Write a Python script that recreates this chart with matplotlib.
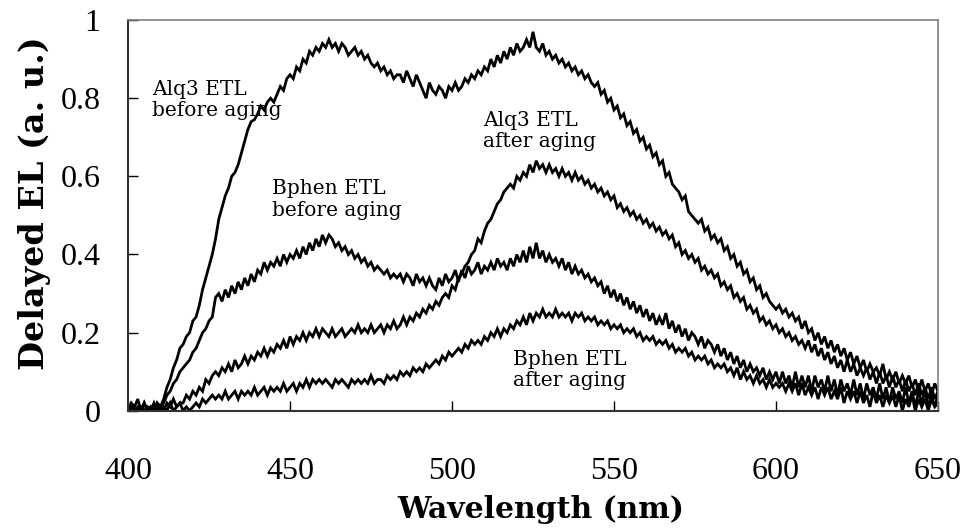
import numpy as np
import matplotlib
matplotlib.use("Agg")
import matplotlib.pyplot as plt

plt.rcParams['font.family'] = ['Liberation Serif', 'DejaVu Serif']

# wavelength grid of the spectrometer (1 nm steps)
wavelength = np.arange(400, 651)

# delayed EL spectra, normalised
alq3_before = [
    0.00, 0.02, 0.01, 0.03, 0.00, 0.02, 0.00, 0.01, 0.00, 0.02,
    0.01, 0.03, 0.06, 0.08, 0.11, 0.13, 0.16, 0.17, 0.19, 0.20,
    0.23, 0.24, 0.27, 0.31, 0.34, 0.37, 0.40, 0.44, 0.49, 0.52,
    0.55, 0.57, 0.60, 0.61, 0.63, 0.66, 0.69, 0.72, 0.74, 0.745,
    0.76, 0.78, 0.77, 0.79, 0.80, 0.79, 0.81, 0.83, 0.82, 0.85,
    0.86, 0.85, 0.88, 0.87, 0.90, 0.89, 0.92, 0.91, 0.93, 0.92,
    0.94, 0.93, 0.95, 0.93, 0.94, 0.92, 0.94, 0.93, 0.91, 0.92,
    0.93, 0.91, 0.92, 0.90, 0.91, 0.89, 0.88, 0.89, 0.87, 0.88,
    0.86, 0.87, 0.85, 0.86, 0.86, 0.84, 0.87, 0.85, 0.83, 0.86,
    0.84, 0.82, 0.80, 0.84, 0.82, 0.81, 0.83, 0.82, 0.80, 0.83,
    0.82, 0.84, 0.82, 0.83, 0.85, 0.84, 0.86, 0.85, 0.87, 0.86,
    0.88, 0.87, 0.90, 0.88, 0.91, 0.89, 0.92, 0.90, 0.93, 0.91,
    0.94, 0.92, 0.93, 0.95, 0.93, 0.97, 0.93, 0.92, 0.94, 0.91,
    0.92, 0.90, 0.91, 0.89, 0.90, 0.88, 0.89, 0.87, 0.88, 0.86,
    0.87, 0.85, 0.86, 0.84, 0.83, 0.84, 0.81, 0.82, 0.79, 0.80,
    0.77, 0.78, 0.75, 0.76, 0.73, 0.74, 0.71, 0.72, 0.69, 0.70,
    0.67, 0.68, 0.65, 0.66, 0.63, 0.64, 0.60, 0.61, 0.58, 0.57,
    0.56, 0.54, 0.55, 0.51, 0.50, 0.49, 0.48, 0.49, 0.46, 0.47,
    0.44, 0.45, 0.43, 0.44, 0.41, 0.42, 0.39, 0.40, 0.37, 0.38,
    0.35, 0.36, 0.33, 0.34, 0.31, 0.32, 0.29, 0.30, 0.28, 0.27,
    0.26, 0.27, 0.25, 0.26, 0.24, 0.25, 0.23, 0.24, 0.21, 0.23,
    0.20, 0.21, 0.18, 0.20, 0.17, 0.19, 0.16, 0.18, 0.15, 0.17,
    0.14, 0.16, 0.13, 0.15, 0.12, 0.14, 0.11, 0.13, 0.10, 0.12,
    0.10, 0.11, 0.09, 0.12, 0.08, 0.10, 0.08, 0.10, 0.07, 0.09,
    0.07, 0.09, 0.06, 0.08, 0.05, 0.08, 0.05, 0.07, 0.04, 0.07,
    0.05,
]

alq3_after = [
    0.00, 0.01, 0.00, 0.00, 0.01, 0.00, 0.01, 0.00, 0.02, 0.00,
    0.01, 0.00, 0.02, 0.01, 0.03, 0.01, 0.02, 0.02, 0.04, 0.03,
    0.05, 0.04, 0.06, 0.05, 0.08, 0.07, 0.09, 0.10, 0.09, 0.11,
    0.10, 0.12, 0.10, 0.13, 0.11, 0.12, 0.14, 0.12, 0.14, 0.13,
    0.15, 0.14, 0.16, 0.14, 0.16, 0.15, 0.17, 0.16, 0.18, 0.16,
    0.19, 0.17, 0.19, 0.18, 0.20, 0.18, 0.20, 0.19, 0.21, 0.19,
    0.21, 0.20, 0.19, 0.21, 0.19, 0.20, 0.21, 0.19, 0.20, 0.21,
    0.20, 0.22, 0.20, 0.21, 0.20, 0.22, 0.20, 0.21, 0.22, 0.20,
    0.22, 0.21, 0.23, 0.21, 0.22, 0.24, 0.22, 0.24, 0.23, 0.25,
    0.24, 0.26, 0.25, 0.27, 0.26, 0.28, 0.27, 0.29, 0.30, 0.29,
    0.32, 0.31, 0.34, 0.35, 0.37, 0.38, 0.40, 0.41, 0.44, 0.43,
    0.46, 0.48, 0.49, 0.51, 0.53, 0.54, 0.56, 0.57, 0.58, 0.57,
    0.60, 0.59, 0.61, 0.60, 0.63, 0.61, 0.64, 0.62, 0.63, 0.61,
    0.63, 0.61, 0.62, 0.60, 0.62, 0.60, 0.61, 0.59, 0.61, 0.59,
    0.60, 0.58, 0.59, 0.57, 0.58, 0.56, 0.57, 0.55, 0.56, 0.54,
    0.55, 0.52, 0.53, 0.51, 0.52, 0.50, 0.51, 0.49, 0.50, 0.48,
    0.49, 0.47, 0.48, 0.46, 0.47, 0.45, 0.46, 0.44, 0.45, 0.42,
    0.43, 0.40, 0.41, 0.39, 0.40, 0.38, 0.39, 0.36, 0.37, 0.35,
    0.36, 0.34, 0.35, 0.32, 0.33, 0.31, 0.32, 0.29, 0.30, 0.28,
    0.29, 0.26, 0.27, 0.25, 0.26, 0.23, 0.24, 0.22, 0.23, 0.21,
    0.22, 0.20, 0.21, 0.19, 0.20, 0.18, 0.19, 0.17, 0.18, 0.16,
    0.18, 0.15, 0.17, 0.14, 0.16, 0.13, 0.15, 0.12, 0.14, 0.11,
    0.13, 0.10, 0.13, 0.10, 0.12, 0.09, 0.11, 0.09, 0.11, 0.08,
    0.10, 0.07, 0.10, 0.07, 0.09, 0.06, 0.09, 0.06, 0.08, 0.05,
    0.08, 0.05, 0.07, 0.04, 0.07, 0.04, 0.06, 0.03, 0.06, 0.03,
    0.05,
]

bphen_before = [
    0.00, 0.01, 0.00, 0.01, 0.00, 0.02, 0.00, 0.01, 0.00, 0.02,
    0.01, 0.02, 0.04, 0.05, 0.07, 0.08, 0.10, 0.11, 0.12, 0.13,
    0.15, 0.16, 0.18, 0.20, 0.21, 0.23, 0.24, 0.29, 0.30, 0.28,
    0.31, 0.29, 0.32, 0.30, 0.33, 0.31, 0.34, 0.32, 0.35, 0.33,
    0.36, 0.35, 0.38, 0.36, 0.38, 0.37, 0.39, 0.37, 0.40, 0.38,
    0.40, 0.39, 0.41, 0.39, 0.42, 0.40, 0.43, 0.41, 0.44, 0.42,
    0.45, 0.43, 0.45, 0.44, 0.42, 0.43, 0.41, 0.42, 0.40, 0.41,
    0.39, 0.40, 0.38, 0.39, 0.37, 0.38, 0.36, 0.37, 0.36, 0.35,
    0.36, 0.34, 0.35, 0.34, 0.35, 0.33, 0.35, 0.34, 0.32, 0.35,
    0.33, 0.34, 0.32, 0.34, 0.32, 0.31, 0.34, 0.32, 0.35, 0.33,
    0.34, 0.36, 0.33, 0.36, 0.34, 0.37, 0.35, 0.36, 0.38, 0.35,
    0.37, 0.36, 0.38, 0.36, 0.39, 0.37, 0.38, 0.36, 0.39, 0.37,
    0.40, 0.38, 0.41, 0.38, 0.42, 0.39, 0.43, 0.39, 0.41, 0.38,
    0.40, 0.38, 0.39, 0.37, 0.39, 0.36, 0.38, 0.35, 0.37, 0.35,
    0.36, 0.34, 0.35, 0.33, 0.34, 0.32, 0.33, 0.30, 0.32, 0.29,
    0.31, 0.28, 0.30, 0.27, 0.29, 0.26, 0.28, 0.25, 0.27, 0.24,
    0.26, 0.23, 0.25, 0.22, 0.24, 0.22, 0.25, 0.21, 0.23, 0.20,
    0.22, 0.19, 0.21, 0.18, 0.20, 0.19, 0.17, 0.19, 0.16, 0.18,
    0.17, 0.15, 0.17, 0.14, 0.16, 0.13, 0.15, 0.12, 0.14, 0.11,
    0.13, 0.10, 0.12, 0.10, 0.11, 0.09, 0.11, 0.08, 0.10, 0.08,
    0.10, 0.07, 0.10, 0.07, 0.09, 0.06, 0.10, 0.06, 0.09, 0.06,
    0.09, 0.05, 0.09, 0.06, 0.08, 0.05, 0.09, 0.05, 0.08, 0.04,
    0.08, 0.05, 0.07, 0.04, 0.08, 0.04, 0.07, 0.03, 0.07, 0.04,
    0.06, 0.03, 0.07, 0.03, 0.06, 0.02, 0.06, 0.03, 0.05, 0.02,
    0.06, 0.02, 0.05, 0.01, 0.05, 0.02, 0.05, 0.01, 0.04, 0.01,
    0.04,
]

bphen_after = [
    0.00, 0.01, 0.00, 0.00, 0.01, 0.00, 0.00, 0.01, 0.00, 0.01,
    0.00, 0.01, 0.00, 0.02, 0.00, 0.01, 0.02, 0.00, 0.01, 0.00,
    0.01, 0.02, 0.01, 0.03, 0.02, 0.03, 0.04, 0.03, 0.04, 0.03,
    0.05, 0.03, 0.04, 0.05, 0.03, 0.05, 0.04, 0.05, 0.04, 0.06,
    0.04, 0.05, 0.06, 0.04, 0.06, 0.05, 0.06, 0.05, 0.07, 0.05,
    0.06, 0.07, 0.05, 0.07, 0.06, 0.08, 0.06, 0.08, 0.07, 0.08,
    0.07, 0.08, 0.07, 0.06, 0.08, 0.07, 0.08, 0.07, 0.06, 0.08,
    0.07, 0.08, 0.07, 0.08, 0.07, 0.09, 0.07, 0.08, 0.08, 0.07,
    0.09, 0.08, 0.09, 0.08, 0.10, 0.09, 0.10, 0.09, 0.11, 0.10,
    0.11, 0.10, 0.12, 0.11, 0.12, 0.13, 0.12, 0.14, 0.13, 0.15,
    0.14, 0.15, 0.16, 0.15, 0.17, 0.16, 0.18, 0.17, 0.18, 0.17,
    0.19, 0.18, 0.20, 0.19, 0.21, 0.19, 0.21, 0.20, 0.22, 0.21,
    0.23, 0.22, 0.24, 0.22, 0.25, 0.23, 0.25, 0.24, 0.26, 0.24,
    0.25, 0.24, 0.26, 0.24, 0.25, 0.24, 0.25, 0.23, 0.25, 0.24,
    0.25, 0.23, 0.24, 0.23, 0.24, 0.22, 0.23, 0.22, 0.23, 0.21,
    0.22, 0.21, 0.22, 0.20, 0.21, 0.20, 0.21, 0.19, 0.20, 0.18,
    0.19, 0.18, 0.19, 0.17, 0.18, 0.17, 0.18, 0.16, 0.17, 0.15,
    0.16, 0.15, 0.16, 0.14, 0.15, 0.13, 0.14, 0.13, 0.14, 0.12,
    0.13, 0.11, 0.12, 0.11, 0.12, 0.10, 0.11, 0.09, 0.11, 0.08,
    0.10, 0.08, 0.09, 0.07, 0.09, 0.07, 0.08, 0.06, 0.08, 0.06,
    0.07, 0.06, 0.07, 0.05, 0.07, 0.05, 0.07, 0.04, 0.07, 0.04,
    0.06, 0.04, 0.06, 0.03, 0.06, 0.04, 0.06, 0.03, 0.05, 0.03,
    0.06, 0.02, 0.05, 0.03, 0.05, 0.02, 0.05, 0.02, 0.04, 0.01,
    0.05, 0.02, 0.04, 0.01, 0.04, 0.02, 0.04, 0.01, 0.04, 0.00,
    0.03, 0.01, 0.04, 0.00, 0.03, 0.01, 0.03, 0.00, 0.03, 0.01,
    0.02,
]

series = [alq3_before, alq3_after, bphen_before, bphen_after]

labels = ["Alq3 ETL\nbefore aging", "Alq3 ETL\nafter aging",
          "Bphen ETL\nbefore aging", "Bphen ETL\nafter aging"]
label_pos = [(407.4, 0.795), (509.6, 0.716), (444.4, 0.541), (518.8, 0.105)]

x_ticks = [400, 450, 500, 550, 600, 650]
x_ticklabels = ["400", "450", "500", "550", "600", "650"]
y_ticks = [0, 0.2, 0.4, 0.6, 0.8, 1]
y_ticklabels = ["0", "0.2", "0.4", "0.6", "0.8", "1"]

fig = plt.figure(figsize=(9.70, 5.28), dpi=100)
ax = fig.add_axes([0.132, 0.222, 0.835, 0.740])

for s in series:
    ax.plot(wavelength, s, color='black', lw=2.0, solid_joinstyle='miter')

for txt, (x, y) in zip(labels, label_pos):
    ax.text(x, y, txt, fontsize=14.5, fontfamily='DejaVu Serif', ha='left',
            va='center', linespacing=1.15)

ax.set_xlim(400, 650)
ax.set_ylim(0, 1)
ax.set_xticks(x_ticks)
ax.set_xticklabels(x_ticklabels, fontfamily='Liberation Serif', fontsize=23)
ax.set_yticks(y_ticks)
ax.set_yticklabels(y_ticklabels, fontfamily='Liberation Serif', fontsize=23)
ax.tick_params(direction='in', length=7, width=1)
ax.tick_params(axis='x', pad=33)
ax.tick_params(axis='y', pad=20)

for side in ['left', 'bottom']:
    ax.spines[side].set_linewidth(1.5)
    ax.spines[side].set_color('#333333')
for side in ['top', 'right']:
    ax.spines[side].set_linewidth(1.2)
    ax.spines[side].set_color('#808080')

ax.set_xlabel("Wavelength (nm)", fontsize=21.5, fontweight='bold',
              fontfamily='DejaVu Serif')
ax.set_ylabel("Delayed EL (a. u.)", fontsize=24, fontweight='bold',
              fontfamily='DejaVu Serif')
ax.xaxis.set_label_coords(0.509, -0.215)
ax.yaxis.set_label_coords(-0.095, 0.532)

fig.savefig("out.png", dpi=100)
